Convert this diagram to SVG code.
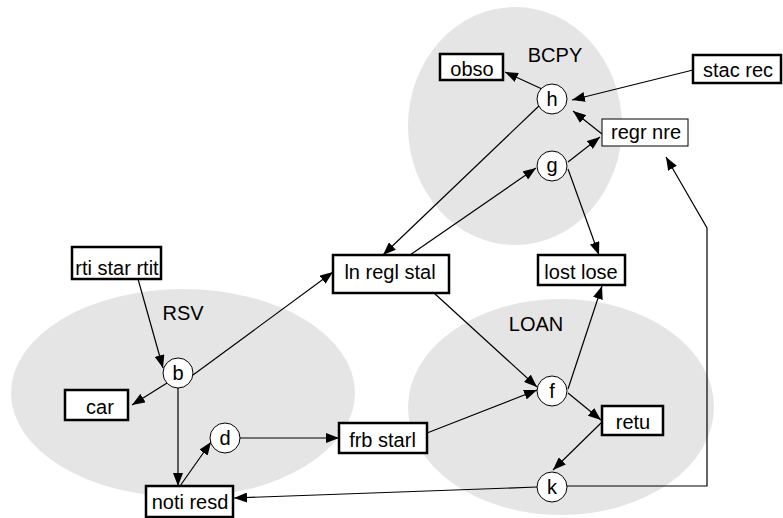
<svg xmlns="http://www.w3.org/2000/svg" width="783" height="518" viewBox="0 0 783 518">
<style>
.grp{fill:#e5e5e5;stroke:none}
.lbl{font-family:"Liberation Sans",Arial,sans-serif;font-size:20px;fill:#000;text-anchor:middle}
.box{fill:#fff;stroke:#000;stroke-width:2.5}
.tbox{fill:#fff;stroke:#000;stroke-width:1}
.circ{fill:#fff;stroke:#000;stroke-width:1}
.e{fill:none;stroke:#000;stroke-width:1.2;marker-end:url(#ah)}
</style>
<defs>
<marker id="ah" markerUnits="userSpaceOnUse" markerWidth="13" markerHeight="10" refX="13" refY="5" orient="auto">
<path d="M0,0 L13,5 L0,10 z" fill="#000"/>
</marker>
</defs>
<g id="groups">
<ellipse class="grp" cx="515" cy="126" rx="107" ry="119"/>
<ellipse class="grp" cx="183" cy="393" rx="172" ry="104"/>
<ellipse class="grp" cx="561" cy="407" rx="153" ry="108"/>
<text class="lbl" x="555" y="62">BCPY</text>
<text class="lbl" x="183" y="320">RSV</text>
<text class="lbl" x="536" y="331">LOAN</text>
</g>
<g id="connectors">
<line class="e" x1="542" y1="89" x2="505" y2="72"/>
<line class="e" x1="693" y1="70" x2="572" y2="100"/>
<line class="e" x1="602" y1="134" x2="573" y2="111"/>
<line class="e" x1="568" y1="162" x2="600" y2="137"/>
<line class="e" x1="541" y1="104" x2="383" y2="255"/>
<line class="e" x1="410" y1="255" x2="536" y2="168"/>
<line class="e" x1="568" y1="169" x2="599" y2="255"/>
<polyline class="e" points="567,486 707,486 707,228 666,157"/>
<line class="e" x1="138" y1="279" x2="163" y2="368"/>
<line class="e" x1="167" y1="383" x2="132" y2="405"/>
<line class="e" x1="193" y1="375" x2="333" y2="272"/>
<line class="e" x1="178" y1="388" x2="178" y2="486"/>
<line class="e" x1="180" y1="486" x2="211" y2="442"/>
<line class="e" x1="240" y1="438" x2="339" y2="438"/>
<line class="e" x1="427" y1="433" x2="537" y2="390"/>
<line class="e" x1="434" y1="293" x2="537" y2="387"/>
<line class="e" x1="568" y1="389" x2="602" y2="286"/>
<line class="e" x1="568" y1="393" x2="601" y2="420"/>
<line class="e" x1="601" y1="423" x2="553" y2="470"/>
<line class="e" x1="537" y1="487" x2="234" y2="498"/>
</g>
<g id="obso"><rect class="box" x="440" y="54" width="63" height="26"/><text class="lbl" x="472" y="76">obso</text></g>
<g id="stac_rec"><rect class="box" x="693" y="55" width="88" height="28"/><text class="lbl" x="738" y="77">stac rec</text></g>
<g id="regr_nre"><rect class="tbox" x="602" y="119" width="86" height="27"/><text class="lbl" x="646" y="139">regr nre</text></g>
<g id="h"><circle class="circ" cx="552" cy="99" r="15"/><text class="lbl" x="552" y="106">h</text></g>
<g id="g"><circle class="circ" cx="552" cy="166" r="15"/><text class="lbl" x="552" y="172">g</text></g>
<g id="ln_regl_stal"><rect class="box" x="333" y="255" width="116" height="38"/><text class="lbl" x="390" y="279">ln regl stal</text></g>
<g id="lost_lose"><rect class="box" x="538" y="255" width="87" height="30"/><text class="lbl" x="581" y="279">lost lose</text></g>
<g id="f"><circle class="circ" cx="552" cy="391" r="15"/><text class="lbl" x="552" y="398">f</text></g>
<g id="retu"><rect class="box" x="602" y="406" width="61" height="29"/><text class="lbl" x="633" y="429">retu</text></g>
<g id="k"><circle class="circ" cx="552" cy="487" r="15"/><text class="lbl" x="552" y="494">k</text></g>
<g id="frb_starl"><rect class="box" x="339" y="423" width="88" height="30"/><text class="lbl" x="382.5" y="447">frb starl</text></g>
<g id="rti_star_rtit"><rect class="box" x="72" y="247" width="89" height="32"/><text class="lbl" x="117" y="275">rti star rtit</text></g>
<g id="b"><circle class="circ" cx="178" cy="373" r="15"/><text class="lbl" x="178" y="380">b</text></g>
<g id="car"><rect class="box" x="65" y="390" width="63" height="30"/><text class="lbl" x="100" y="414">car</text></g>
<g id="d"><circle class="circ" cx="225" cy="438" r="15"/><text class="lbl" x="225" y="445">d</text></g>
<g id="noti_resd"><rect class="box" x="146" y="486" width="87" height="31"/><text class="lbl" x="190" y="509">noti resd</text></g>
</svg>
